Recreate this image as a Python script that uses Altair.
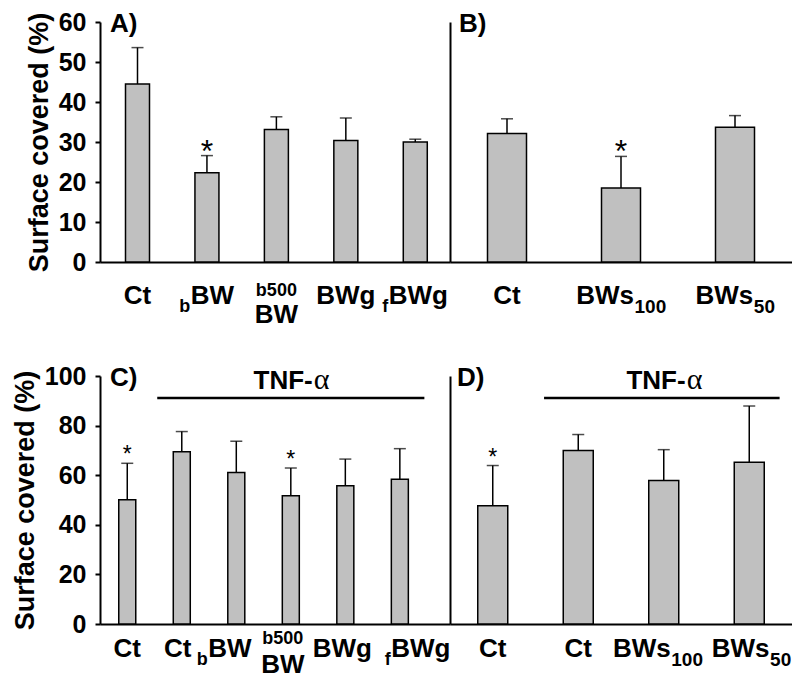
import altair as alt
import pandas as pd

FONT = "Liberation Sans"
SERIF = "Liberation Serif"

# ---------------- data ----------------
A_ids = ["Ct", "bBW", "b500BW", "BWg", "fBWg"]
A_main = ["Ct", "BW", "BW", "BWg", "BWg"]
A_pre = ["", "b", "", "", "f"]
A_sup = ["", "", "b500", "", ""]
A_sub = ["", "", "", "", ""]
A_mean = [44.5, 22.3, 33.1, 30.4, 30.0]
A_upper = [53.6, 26.6, 36.3, 36.0, 30.7]
A_sig = [False, True, False, False, False]

B_ids = ["Ct", "BWs100", "BWs50"]
B_main = ["Ct", "BWs", "BWs"]
B_pre = ["", "", ""]
B_sup = ["", "", ""]
B_sub = ["", "100", "50"]
B_mean = [32.1, 18.5, 33.7]
B_upper = [35.8, 26.4, 36.6]
B_sig = [False, True, False]

C_ids = ["Ct", "Ct+TNF", "bBW+TNF", "b500BW+TNF", "BWg+TNF", "fBWg+TNF"]
C_main = ["Ct", "Ct", "BW", "BW", "BWg", "BWg"]
C_pre = ["", "", "b", "", "", "f"]
C_sup = ["", "", "", "b500", "", ""]
C_sub = ["", "", "", "", "", ""]
C_mean = [50.1, 69.5, 61.1, 51.7, 55.7, 58.4]
C_upper = [64.8, 77.6, 73.7, 62.9, 66.5, 70.7]
C_sig = [True, False, False, True, False, False]
C_tnf = [False, True, True, True, True, True]

D_ids = ["Ct", "Ct+TNF", "BWs100+TNF", "BWs50+TNF"]
D_main = ["Ct", "Ct", "BWs", "BWs"]
D_pre = ["", "", "", ""]
D_sup = ["", "", "", ""]
D_sub = ["", "", "100", "50"]
D_mean = [47.7, 70.0, 57.9, 65.2]
D_upper = [63.9, 76.4, 70.3, 87.9]
D_sig = [True, False, False, False]
D_tnf = [False, True, True, True]

TNF_TEXT = "TNF-"
TNF_GREEK = "α"
Y_TITLE = "Surface covered (%)"

# ------------- helpers (typography / layout) -------------
MAIN = 26
SMALL = 18
CW = {"B": .722, "W": .944, "C": .722, "t": .333, "g": .611, "s": .556,
      "b": .611, "f": .333, "T": .611, "N": .722, "F": .611, "-": .333}


def tw(s, size):
    return sum(CW.get(c, .556) for c in s) * size


def txt(**kw):
    base = dict(font=FONT, fontWeight="bold", color="black")
    base.update(kw)
    return base


def panel(ids, main, pre, sup, sub, mean, upper, sig, ymax, ystep, width,
          height, bar_w, scale_kw, show_y, letter, letter_dx, lab_base,
          sup_off, sec_off, star_size, star_dy, nudge=None, tnf=None,
          tnf_bp=(0, 1)):
    nudge = nudge or {}
    df = pd.DataFrame({"id": ids, "mean": mean, "upper": upper, "sig": sig})
    xs = alt.Scale(domain=ids, paddingInner=0, **scale_kw)
    xaxis = alt.Axis(labels=False, ticks=False, title=None, domainWidth=2,
                     domainColor="black", grid=False)
    x = alt.X("id:N", scale=xs, sort=ids, axis=xaxis)
    ys = alt.Scale(domain=[0, ymax], nice=False, zero=True)
    if show_y:
        yaxis = alt.Axis(values=list(range(0, ymax + 1, ystep)), title=Y_TITLE,
                         grid=False)
    else:
        yaxis = alt.Axis(labels=False, ticks=False, title=None, grid=False,
                         domainWidth=2, domainColor="black")
    base = alt.Chart(df)
    layers = []
    layers.append(base.mark_rule(strokeWidth=1.5, color="black").encode(
        x=x, y=alt.Y("mean:Q", scale=ys, axis=yaxis), y2="upper:Q"))
    layers.append(base.mark_tick(size=12, thickness=1.5, color="black").encode(
        x=x, y=alt.Y("upper:Q", scale=ys, axis=yaxis)))
    layers.append(base.mark_bar(size=bar_w, fill="#c0c0c0", stroke="black",
                                strokeWidth=1.5).encode(
        x=x, y=alt.Y("mean:Q", scale=ys, axis=yaxis)))
    layers.append(base.transform_filter("datum.sig").mark_text(
        **txt(text="*", fontSize=star_size, fontWeight="normal", dy=star_dy,
              baseline="alphabetic")).encode(
        x=x, y=alt.Y("upper:Q", scale=ys, axis=yaxis)))

    # category labels (with sub/superscripts)
    for i, cid in enumerate(ids):
        d = pd.DataFrame({"id": [cid]})
        sh = nudge.get(cid, 0)
        parts = []
        if sup[i]:
            parts.append((sup[i], SMALL, sh, lab_base + sup_off, "center"))
            parts.append((main[i], MAIN, sh, lab_base + sec_off, "center"))
        else:
            wp, wm, ws = tw(pre[i], SMALL), tw(main[i], MAIN), tw(sub[i], SMALL + 1)
            left = -(wp + wm + ws) / 2 + sh
            parts.append((main[i], MAIN, left + wp, lab_base, "left"))
            if pre[i]:
                parts.append((pre[i], SMALL, left + wp - 0.5, lab_base + 8, "right"))
            if sub[i]:
                parts.append((sub[i], SMALL + 1, left + wp + wm + 0.5, lab_base + 9, "left"))
        for (t, fs, dx, yy, al) in parts:
            layers.append(alt.Chart(d).mark_text(
                **txt(text=t, fontSize=fs, dx=dx, align=al, baseline="alphabetic")
            ).encode(x=x, y=alt.value(yy)))

    # panel letter
    layers.append(alt.Chart(pd.DataFrame({"t": [letter]})).mark_text(
        **txt(fontSize=26, align="left", baseline="alphabetic")).encode(
        x=alt.value(letter_dx), y=alt.value(10), text="t:N"))

    # TNF bar
    if tnf is not None:
        t_ids = [c for c, f in zip(ids, tnf) if f]
        tdf = pd.DataFrame({"start": [t_ids[0]], "end": [t_ids[-1]],
                            "mid": [t_ids[len(t_ids) // 2]],
                            "l1": [TNF_TEXT], "l2": [TNF_GREEK]})
        layers.append(alt.Chart(tdf).mark_rule(strokeWidth=2.5, color="black").encode(
            x=alt.X("start:N", scale=xs, axis=xaxis, bandPosition=tnf_bp[0]),
            x2=alt.X2("end", bandPosition=tnf_bp[1]),
            y=alt.value(22)))
        w1 = tw(TNF_TEXT, 26)
        w2 = 0.55 * 28
        lft = -(w1 + w2) / 2
        layers.append(alt.Chart(tdf).mark_text(
            **txt(fontSize=26, align="right", baseline="alphabetic", dx=lft + w1)).encode(
            x=alt.X("mid:N", scale=xs, axis=xaxis), y=alt.value(13), text="l1:N"))
        layers.append(alt.Chart(tdf).mark_text(
            **txt(font=SERIF, fontWeight="normal", fontSize=30, align="left",
                  baseline="alphabetic", dx=lft + w1 + 1)).encode(
            x=alt.X("mid:N", scale=xs, axis=xaxis), y=alt.value(13), text="l2:N"))

    return alt.layer(*layers).properties(width=width, height=height)


TOP_H = 240
BOT_H = 248

pA = panel(A_ids, A_main, A_pre, A_sup, A_sub, A_mean, A_upper, A_sig, 60, 10,
           350, TOP_H, 24, dict(paddingOuter=0.02, align=1), True, "A)", 10,
           TOP_H + 42, -8, 19, 32, 6)
pB = panel(B_ids, B_main, B_pre, B_sup, B_sub, B_mean, B_upper, B_sig, 60, 10,
           342, TOP_H, 39, dict(paddingOuter=0), False, "B)", 9,
           TOP_H + 42, -8, 19, 32, 6)
pC = panel(C_ids, C_main, C_pre, C_sup, C_sub, C_mean, C_upper, C_sig, 100, 20,
           350, BOT_H, 17, dict(paddingOuter=0.21, align=0), True, "C)", 10,
           BOT_H + 33, -13, 16, 23, -1,
           nudge={"Ct+TNF": -4, "bBW+TNF": -12, "b500BW+TNF": -8, "BWg+TNF": -3,
                  "fBWg+TNF": 18},
           tnf=C_tnf, tnf_bp=(0.05, 0.95))
pD = panel(D_ids, D_main, D_pre, D_sup, D_sub, D_mean, D_upper, D_sig, 100, 20,
           342, BOT_H, 30, dict(paddingOuter=0), False, "D)", 7,
           BOT_H + 33, -13, 16, 23, -1,
           nudge={"BWs100+TNF": -6, "BWs50+TNF": 2},
           tnf=D_tnf, tnf_bp=(0.10, 0.855))

chart = alt.concat(pA, pB, pC, pD, columns=2,
                   spacing={"row": 114, "column": 0}, bounds="flush").properties(
    padding={"left": 3, "top": 2, "right": 0, "bottom": 0}
).configure_view(stroke=None).configure_axis(
    labelFont=FONT, labelFontSize=25, labelFontWeight="bold", labelColor="black",
    titleFont=FONT, titleFontSize=27, titleFontWeight="bold", titleColor="black",
    domainColor="black", domainWidth=2, tickColor="black", tickWidth=2,
    tickSize=5, labelPadding=9, titlePadding=5, grid=False
)

chart.save("out.html", embed_options={"renderer": "svg", "actions": False})
